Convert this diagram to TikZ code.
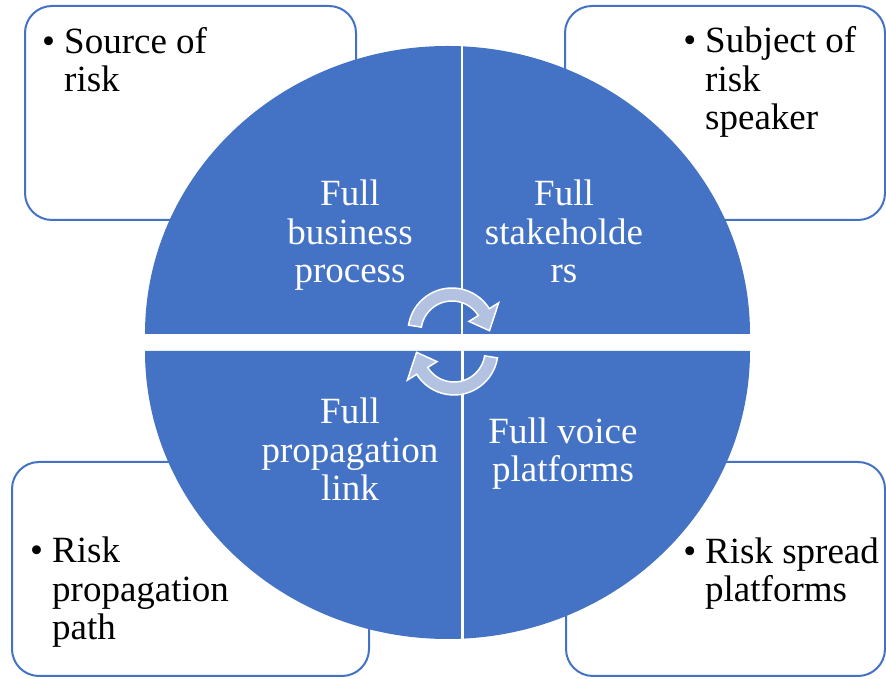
\documentclass[tikz,border=0pt]{standalone}
\usepackage{fontspec}
\setmainfont{Liberation Serif}
\definecolor{accent}{RGB}{68,114,196}
\definecolor{arrowfill}{RGB}{180,194,226}
\tikzset{
  boxframe/.style={draw=accent, line width=2pt, fill=white, rounded corners=27pt, rectangle, inner sep=0pt, anchor=south west},
  quadtext/.style={text=white, align=center, font=\fontsize{37}{38.5}\selectfont, inner sep=0pt, anchor=base},
  boxtext/.style={text=black, align=left, font=\fontsize{37}{38.5}\selectfont, inner sep=0pt, anchor=base west},
  cyclearrow/.style={fill=arrowfill, draw=white, line width=1.5pt, line join=miter},
}
\newcommand{\bul}{\llap{\textbullet\hspace{9pt}}}
\begin{document}
\begin{tikzpicture}[x=1pt,y=1pt]
\useasboundingbox (0,0) rectangle (886,679);
% outer boxes
\node[boxframe, minimum width=331pt, minimum height=214pt] (boxTL) at (24,458) {};
\node[boxframe, minimum width=320pt, minimum height=214pt] (boxTR) at (564,458) {};
\node[boxframe, minimum width=357pt, minimum height=214pt] (boxBL) at (11,2) {};
\node[boxframe, minimum width=319pt, minimum height=214pt] (boxBR) at (565,2) {};
% circle halves
\fill[accent] (145,345) arc[start angle=180, end angle=0, x radius=302.5, y radius=288] -- cycle;
\fill[accent] (145,328) arc[start angle=180, end angle=360, x radius=302.5, y radius=288] -- cycle;
\draw[white, line width=2.5pt] (462,345) -- (462,640);
\draw[white, line width=2.5pt] (462.5,328) -- (462.5,36);
% cycle arrows
\begin{scope}[shift={(452,347)}]
\filldraw[cyclearrow] (171:44) arc[start angle=171, end angle=32, radius=44] -- (32:55) -- (2:37.5) -- (32:20) -- (32:31) arc[start angle=32, end angle=171, radius=31] -- cycle;
\end{scope}
\begin{scope}[shift={(454,328)}, rotate=180]
\filldraw[cyclearrow] (171:44) arc[start angle=171, end angle=32, radius=44] -- (32:55) -- (2:37.5) -- (32:20) -- (32:31) arc[start angle=32, end angle=171, radius=31] -- cycle;
\end{scope}
% quadrant texts (anchor at last line baseline)
\node[quadtext] (qTL) at (350,396) {Full\\business\\process};
\node[quadtext] (qTR) at (564,396) {Full\\stakeholde\\rs};
\node[quadtext] (qBL) at (350,178) {Full\\propagation\\link};
\node[quadtext] (qBR) at (563,197) {Full voice\\platforms};
% box texts
\node[boxtext] (tTL) at (64,587) {\bul Source of\\risk};
\node[boxtext] (tTR) at (705,549) {\bul Subject of\\risk\\speaker};
\node[boxtext] (tBL) at (52,39) {\bul Risk\\propagation\\path};
\node[boxtext] (tBR) at (705,77) {\bul Risk spread\\platforms};
\end{tikzpicture}
\end{document}
